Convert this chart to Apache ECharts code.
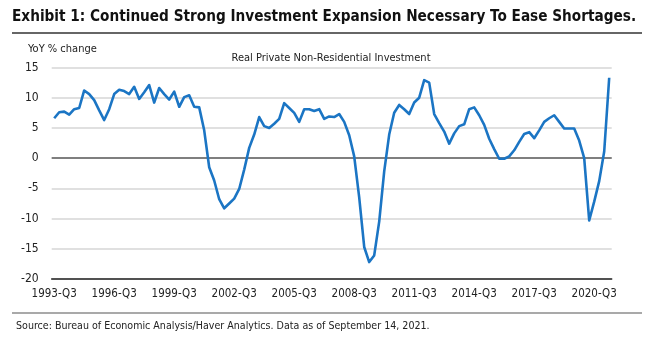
<!DOCTYPE html>
<html>
<head>
<meta charset="utf-8">
<script src="https://cdn.jsdelivr.net/npm/echarts@6/dist/echarts.min.js"></script>
<style>
  html, body { margin: 0; padding: 0; background: #ffffff; }
  #chart { width: 654px; height: 345px; }
</style>
</head>
<body>
<div id="chart"></div>
<script>
// Quarterly periods, 1993-Q3 through 2021-Q2
const firstYear = 1993, firstQuarter = 3, periodCount = 112;
const quarters = [];
for (let k = 0; k < periodCount; k++) {
  const q = firstQuarter - 1 + k;
  quarters.push((firstYear + Math.floor(q / 4)) + '-Q' + (q % 4 + 1));
}

// Real private non-residential investment, YoY % change
const investmentYoY = [
  6.6, 7.6, 7.7, 7.2, 8.1, 8.3, 11.2, 10.6, 9.6, 7.9,
  6.3, 8.1, 10.6, 11.3, 11.1, 10.6, 11.8, 9.8, 10.9, 12.1,
  9.2, 11.6, 10.6, 9.7, 11.0, 8.5, 10.1, 10.4, 8.5, 8.4,
  4.6, -1.5, -3.7, -6.8, -8.3, -7.5, -6.7, -5.1, -1.9, 1.7,
  3.9, 6.8, 5.3, 5.0, 5.7, 6.5, 9.1, 8.3, 7.5, 6.0,
  8.1, 8.1, 7.8, 8.1, 6.5, 6.9, 6.8, 7.3, 6.0, 3.8,
  0.3, -6.5, -14.7, -17.2, -16.1, -10.5, -2.2, 3.9, 7.5, 8.8,
  8.1, 7.3, 9.2, 10.0, 12.9, 12.5, 7.3, 5.8, 4.4, 2.4,
  4.1, 5.3, 5.6, 8.1, 8.4, 7.1, 5.5, 3.2, 1.5, -0.1,
  -0.1, 0.3, 1.3, 2.7, 4.0, 4.3, 3.3, 4.6, 6.0, 6.6,
  7.1, 6.0, 4.9, 4.9, 4.9, 2.9, 0.0, -10.3, -7.2, -3.8,
  1.1, 13.3
];

// Labelled periods on the x axis
const tickLabels = ['1993-Q3', '1996-Q3', '1999-Q3', '2002-Q3', '2005-Q3',
  '2008-Q3', '2011-Q3', '2014-Q3', '2017-Q3', '2020-Q3'];

// Y axis range and step
const yMin = -20, yMax = 15, yStep = 5;

const FONT = '"DejaVu Sans Condensed", "Liberation Sans Narrow", "Noto Sans", sans-serif';
const labelSet = new Set(tickLabels);

const chart = echarts.init(document.getElementById('chart'), null, { renderer: 'canvas' });

chart.setOption({
  animation: false,
  backgroundColor: '#ffffff',
  graphic: [
    {
      type: 'text', x: 12, y: 17,
      style: {
        text: 'Exhibit 1: Continued Strong Investment Expansion Necessary To Ease Shortages.',
        font: 'bold 15.2px ' + FONT, fill: '#111111', textVerticalAlign: 'middle'
      }
    },
    { type: 'line', shape: { x1: 12, y1: 33, x2: 642, y2: 33 }, style: { stroke: '#333333', lineWidth: 1.5 } },
    {
      type: 'text', x: 28, y: 49,
      style: { text: 'YoY % change', font: '11px ' + FONT, fill: '#222222', textVerticalAlign: 'middle' }
    },
    {
      type: 'text', x: 331, y: 58,
      style: {
        text: 'Real Private Non-Residential Investment', font: '11px ' + FONT, fill: '#222222',
        textAlign: 'center', textVerticalAlign: 'middle'
      }
    },
    { type: 'line', shape: { x1: 12, y1: 313, x2: 642, y2: 313 }, style: { stroke: '#555555', lineWidth: 1.2 } },
    {
      type: 'text', x: 16, y: 326,
      style: {
        text: 'Source: Bureau of Economic Analysis/Haver Analytics. Data as of September 14, 2021.',
        font: '10.6px ' + FONT, fill: '#222222', textVerticalAlign: 'middle'
      }
    }
  ],
  grid: { left: 51.7, right: 42.3, top: 67.5, bottom: 66, containLabel: false },
  xAxis: {
    type: 'category',
    data: quarters,
    boundaryGap: true,
    axisLine: { onZero: false, lineStyle: { color: '#222222', width: 1.5 } },
    axisTick: {
      length: 4,
      lineStyle: { color: '#222222', width: 1.5 },
      interval: (i, name) => labelSet.has(name)
    },
    axisLabel: {
      interval: (i, name) => labelSet.has(name),
      fontFamily: FONT, fontSize: 11.5, color: '#222222', margin: 9
    },
    splitLine: { show: false }
  },
  yAxis: {
    type: 'value',
    min: yMin, max: yMax, interval: yStep,
    axisLine: { show: false },
    axisTick: { show: false },
    axisLabel: { fontFamily: FONT, fontSize: 12, color: '#222222', margin: 13 },
    splitLine: { lineStyle: { color: '#d6d6d6', width: 1.5 } }
  },
  series: [{
    type: 'line',
    data: investmentYoY,
    showSymbol: false,
    symbol: 'none',
    lineStyle: { color: '#1b75c4', width: 2.6, join: 'round' },
    z: 3,
    markLine: {
      silent: true,
      symbol: 'none',
      label: { show: false },
      lineStyle: { color: '#7f7f7f', width: 2.2, type: 'solid' },
      data: [{ yAxis: 0 }],
      z: 1
    }
  }]
});
</script>
</body>
</html>
